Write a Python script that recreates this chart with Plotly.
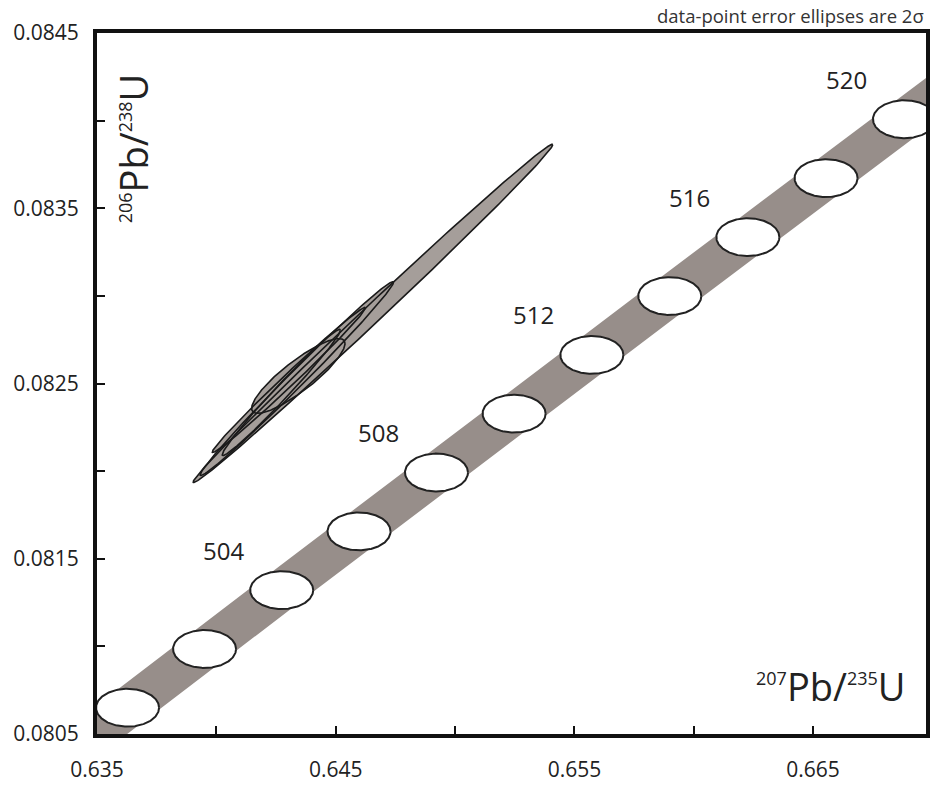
import numpy as np
import plotly.graph_objects as go

# ---- Concordia (ages in Ma and their isotope ratios) ----
ages = [496, 498, 500, 502, 504, 506, 508, 510, 512, 514, 516, 518, 520, 522, 524]
conc_x = [0.629847, 0.633060, 0.636280, 0.639506, 0.642738, 0.645977, 0.649222, 0.652474,
          0.655732, 0.658996, 0.662267, 0.665544, 0.668828, 0.672118, 0.675415]   # 207Pb/235U
conc_y = [0.079980, 0.080315, 0.080650, 0.080985, 0.081321, 0.081656, 0.081992, 0.082328,
          0.082663, 0.082999, 0.083335, 0.083672, 0.084008, 0.084344, 0.084680]   # 206Pb/238U
band_half_x = 0.00142          # decay-constant uncertainty band (half-width in 207/235)
marker_ages = [500, 502, 504, 506, 508, 510, 512, 514, 516, 518, 520]
marker_sx = 0.00132            # age-marker ellipse semi-axes
marker_sy = 0.000108
label_ages = [504, 508, 512, 516, 520]

# ---- Data-point error ellipses (2 sigma) ----
data_x = [0.646561, 0.643372, 0.643036, 0.643435, 0.642722]
data_y = [0.082900, 0.082528, 0.082520, 0.082543, 0.082449]
data_sx = [0.007533, 0.004050, 0.003210, 0.001956, 0.002476]
data_sy = [0.000965, 0.000553, 0.000414, 0.000213, 0.000360]
data_rho = [0.99734, 0.99317, 0.99353, 0.868, 0.98679]

x_ticks = [0.635, 0.645, 0.655, 0.665]
y_ticks = [0.0805, 0.0815, 0.0825, 0.0835, 0.0845]


def ellipse(cx, cy, sx, sy, rho, n=240):
    t = np.linspace(0, 2 * np.pi, n)
    x = cx + sx * np.cos(t)
    y = cy + sy * (rho * np.cos(t) + np.sqrt(1 - rho ** 2) * np.sin(t))
    return x, y


fig = go.Figure()

# concordia band
cx = np.array(conc_x)
cy = np.array(conc_y)
bx = np.concatenate([cx - band_half_x, (cx + band_half_x)[::-1]])
by = np.concatenate([cy, cy[::-1]])
fig.add_trace(go.Scatter(x=bx, y=by, mode="lines", fill="toself",
                         fillcolor="#978e8a", line=dict(width=0),
                         hoverinfo="skip", showlegend=False))

# age marker ellipses
for a in marker_ages:
    i = ages.index(a)
    ex, ey = ellipse(conc_x[i], conc_y[i], marker_sx, marker_sy, 0.0)
    fig.add_trace(go.Scatter(x=ex, y=ey, mode="lines", fill="toself",
                             fillcolor="white", line=dict(color="#222222", width=2),
                             hoverinfo="skip", showlegend=False))

# data ellipses: fills first, then outlines
for k in range(len(data_x)):
    ex, ey = ellipse(data_x[k], data_y[k], data_sx[k], data_sy[k], data_rho[k])
    fig.add_trace(go.Scatter(x=ex, y=ey, mode="lines", fill="toself",
                             fillcolor="#a59e9a", line=dict(width=0),
                             hoverinfo="skip", showlegend=False))
for k in range(len(data_x)):
    ex, ey = ellipse(data_x[k], data_y[k], data_sx[k], data_sy[k], data_rho[k])
    fig.add_trace(go.Scatter(x=ex, y=ey, mode="lines",
                             line=dict(color="#1a1a1a", width=1.6),
                             hoverinfo="skip", showlegend=False))

FONT = "Open Sans"
annotations = []
for a in label_ages:
    i = ages.index(a)
    annotations.append(dict(x=conc_x[i], y=conc_y[i], xref="x", yref="y", text=str(a),
                            showarrow=False, xshift=-58, yshift=40,
                            font=dict(family=FONT, size=24, color="#222222")))

annotations.append(dict(
    x=0.978, y=0.068, xref="paper", yref="paper", xanchor="right", yanchor="middle",
    text="<sup><span style='font-size:18px'>207</span></sup>Pb/<sup><span style='font-size:18px'>235</span></sup>U",
    showarrow=False, font=dict(family=FONT, size=38, color="#222222")))
annotations.append(dict(
    x=0.043, y=0.835, xref="paper", yref="paper", xanchor="center", yanchor="middle",
    textangle=-90,
    text="<sup><span style='font-size:18px'>206</span></sup>Pb/<sup><span style='font-size:18px'>238</span></sup>U",
    showarrow=False, font=dict(family=FONT, size=38, color="#222222")))
annotations.append(dict(
    x=1.0, y=1.0, xref="paper", yref="paper", xanchor="right", yanchor="bottom",
    yshift=3,
    text="data-point error ellipses are 2σ", showarrow=False,
    font=dict(family=FONT, size=18.5, color="#333333")))

axis_common = dict(showgrid=False, zeroline=False, showline=True, linecolor="#111111",
                   linewidth=4, mirror=True, ticks="inside", ticklen=8, tickwidth=2,
                   tickcolor="#111111", automargin=False,
                   tickfont=dict(family=FONT, size=21, color="#222222"))

fig.update_layout(
    width=934, height=785,
    margin=dict(l=97, r=8, t=33, b=51),
    paper_bgcolor="white", plot_bgcolor="white",
    annotations=annotations,
    xaxis=dict(range=[0.635, 0.66973], tickvals=x_ticks, tickformat=".3f",
               minor=dict(dtick=0.005, tick0=0.635, ticks="inside", ticklen=8,
                          tickwidth=2, tickcolor="#111111"),
               ticklabelstandoff=14, **axis_common),
    yaxis=dict(range=[0.0805, 0.0845], tickvals=y_ticks, tickformat=".4f",
               minor=dict(dtick=0.0005, tick0=0.0805, ticks="inside", ticklen=8,
                          tickwidth=2, tickcolor="#111111"),
               ticklabelstandoff=10, **axis_common),
)

fig.write_html("out.html", config={"displayModeBar": False},
               post_script="document.body.style.margin='0';document.body.style.overflow='hidden';")
